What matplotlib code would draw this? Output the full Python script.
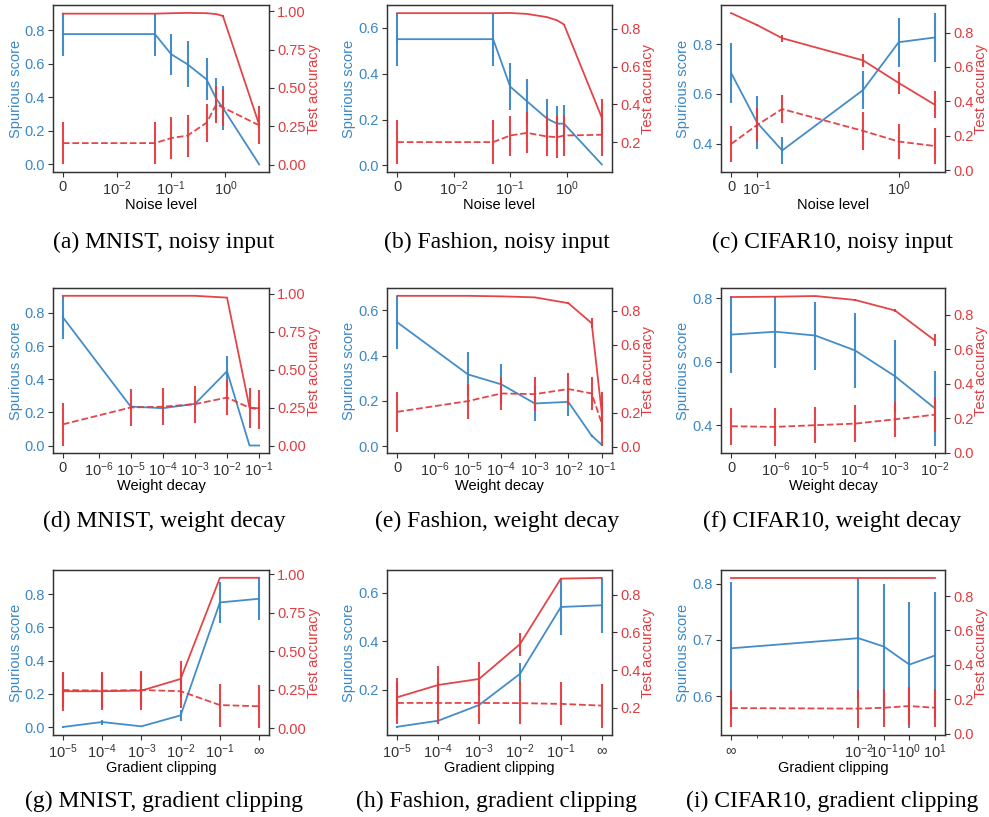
import numpy as np
import matplotlib
matplotlib.use("Agg")
import matplotlib.pyplot as plt
from matplotlib.ticker import NullLocator, FixedLocator, NullFormatter

plt.rcParams['font.family'] = ['Liberation Sans', 'DejaVu Sans']
plt.rcParams['mathtext.fontset'] = 'custom'
plt.rcParams['mathtext.rm'] = 'Liberation Sans'
plt.rcParams['mathtext.it'] = 'Liberation Sans:italic'
plt.rcParams['mathtext.bf'] = 'Liberation Sans:bold'
plt.rcParams['axes.edgecolor'] = '#333333'
plt.rcParams['xtick.color'] = '#333333'
plt.rcParams['ytick.color'] = '#333333'

BLUE = '#3a87c6'
RED = '#e23b3f'

# ---------------- data ----------------
# (a) MNIST, noisy input
noise_mnist = [0, 0.05, 0.1, 0.2, 0.45, 0.68, 0.9, 4.2]
spur_mnist_noise = [0.776, 0.776, 0.656, 0.596, 0.506, 0.39, 0.336, 0.0]
spur_mnist_noise_err = [0.128, 0.128, 0.123, 0.137, 0.125, 0.122, 0.13, 0.0]
acc_mnist_noise = [0.985, 0.985, 0.988, 0.99, 0.988, 0.982, 0.97, 0.26]
acc_mnist_noise_err = [0.002, 0.002, 0.002, 0.002, 0.002, 0.003, 0.004, 0.01]
dash_mnist_noise = [0.14, 0.14, 0.173, 0.189, 0.273, 0.393, 0.373, 0.256]
dash_mnist_noise_err = [0.139, 0.139, 0.135, 0.137, 0.123, 0.12, 0.12, 0.125]

# (b) Fashion, noisy input
noise_fashion = [0, 0.05, 0.1, 0.2, 0.45, 0.68, 0.9, 4.2]
spur_fashion_noise = [0.551, 0.551, 0.344, 0.279, 0.204, 0.182, 0.182, 0.004]
spur_fashion_noise_err = [0.116, 0.116, 0.103, 0.098, 0.087, 0.078, 0.082, 0.0]
acc_fashion_noise = [0.883, 0.883, 0.884, 0.879, 0.862, 0.845, 0.823, 0.33]
acc_fashion_noise_err = [0.002, 0.002, 0.002, 0.002, 0.003, 0.003, 0.004, 0.1]
dash_fashion_noise = [0.2, 0.2, 0.235, 0.249, 0.23, 0.226, 0.235, 0.239]
dash_fashion_noise_err = [0.118, 0.118, 0.106, 0.108, 0.106, 0.11, 0.108, 0.11]

# (c) CIFAR10, noisy input
noise_cifar = [0, 0.1, 0.15, 0.56, 1.0, 1.8]
spur_cifar_noise = [0.684, 0.484, 0.373, 0.616, 0.808, 0.827]
spur_cifar_noise_err = [0.119, 0.107, 0.056, 0.076, 0.099, 0.1]
acc_cifar_noise = [0.913, 0.843, 0.767, 0.638, 0.507, 0.38]
acc_cifar_noise_err = [0.003, 0.006, 0.02, 0.04, 0.064, 0.078]
dash_cifar_noise = [0.152, 0.263, 0.355, 0.228, 0.166, 0.14]
dash_cifar_noise_err = [0.105, 0.1, 0.08, 0.11, 0.104, 0.107]

# (d) MNIST, weight decay
wd_mnist = [0, 1e-5, 1e-4, 1e-3, 1e-2, 0.05, 0.1]
spur_mnist_wd = [0.774, 0.235, 0.225, 0.251, 0.448, 0.0, 0.0]
spur_mnist_wd_err = [0.131, 0.005, 0.005, 0.005, 0.095, 0.0, 0.0]
acc_mnist_wd = [0.985, 0.985, 0.985, 0.985, 0.973, 0.25, 0.245]
acc_mnist_wd_err = [0.002, 0.002, 0.002, 0.002, 0.003, 0.01, 0.01]
dash_mnist_wd = [0.14, 0.251, 0.256, 0.273, 0.316, 0.249, 0.238]
dash_mnist_wd_err = [0.139, 0.122, 0.122, 0.122, 0.117, 0.13, 0.13]

# (e) Fashion, weight decay
wd_fashion = [0, 1e-5, 1e-4, 1e-3, 1e-2, 0.05, 0.1]
spur_fashion_wd = [0.546, 0.317, 0.273, 0.189, 0.196, 0.047, 0.007]
spur_fashion_wd_err = [0.118, 0.097, 0.088, 0.077, 0.06, 0.005, 0.003]
acc_fashion_wd = [0.888, 0.888, 0.885, 0.879, 0.845, 0.727, 0.2]
acc_fashion_wd_err = [0.002, 0.002, 0.002, 0.003, 0.005, 0.03, 0.12]
dash_fashion_wd = [0.206, 0.269, 0.314, 0.31, 0.34, 0.314, 0.138]
dash_fashion_wd_err = [0.116, 0.103, 0.095, 0.098, 0.094, 0.095, 0.13]

# (f) CIFAR10, weight decay
wd_cifar = [0, 1e-6, 1e-5, 1e-4, 1e-3, 1e-2]
spur_cifar_wd = [0.686, 0.695, 0.683, 0.636, 0.555, 0.454]
spur_cifar_wd_err = [0.12, 0.114, 0.107, 0.119, 0.114, 0.117]
acc_cifar_wd = [0.903, 0.905, 0.909, 0.886, 0.825, 0.651]
acc_cifar_wd_err = [0.003, 0.003, 0.003, 0.004, 0.01, 0.035]
dash_cifar_wd = [0.153, 0.149, 0.159, 0.168, 0.193, 0.22]
dash_cifar_wd_err = [0.108, 0.108, 0.105, 0.108, 0.102, 0.1]

# (g) MNIST, gradient clipping   (inf = no clipping)
clip_mnist = [1e-5, 1e-4, 1e-3, 1e-2, 1e-1, np.inf]
spur_mnist_clip = [0.0, 0.03, 0.004, 0.07, 0.75, 0.772]
spur_mnist_clip_err = [0.003, 0.015, 0.003, 0.035, 0.125, 0.128]
acc_mnist_clip = [0.24, 0.24, 0.244, 0.32, 0.978, 0.978]
acc_mnist_clip_err = [0.127, 0.125, 0.125, 0.115, 0.002, 0.002]
dash_mnist_clip = [0.248, 0.244, 0.248, 0.24, 0.15, 0.142]
dash_mnist_clip_err = [0.11, 0.11, 0.11, 0.11, 0.14, 0.138]

# (h) Fashion, gradient clipping
clip_fashion = [1e-5, 1e-4, 1e-3, 1e-2, 1e-1, np.inf]
spur_fashion_clip = [0.046, 0.071, 0.136, 0.265, 0.542, 0.549]
spur_fashion_clip_err = [0.003, 0.005, 0.006, 0.043, 0.118, 0.115]
acc_fashion_clip = [0.256, 0.321, 0.353, 0.537, 0.884, 0.888]
acc_fashion_clip_err = [0.1, 0.1, 0.09, 0.06, 0.002, 0.002]
dash_fashion_clip = [0.226, 0.226, 0.226, 0.225, 0.221, 0.212]
dash_fashion_clip_err = [0.11, 0.11, 0.11, 0.112, 0.114, 0.116]

# (i) CIFAR10, gradient clipping
clip_cifar = [np.inf, 1e-2, 1e-1, 1.0, 10.0]
spur_cifar_clip = [0.685, 0.703, 0.688, 0.656, 0.672]
spur_cifar_clip_err = [0.118, 0.108, 0.112, 0.112, 0.113]
acc_cifar_clip = [0.906, 0.906, 0.906, 0.906, 0.906]
acc_cifar_clip_err = [0.002, 0.002, 0.002, 0.002, 0.002]
dash_cifar_clip = [0.148, 0.145, 0.15, 0.16, 0.15]
dash_cifar_clip_err = [0.108, 0.11, 0.11, 0.11, 0.11]

captions = ['(a) MNIST, noisy input', '(b) Fashion, noisy input', '(c) CIFAR10, noisy input',
            '(d) MNIST, weight decay', '(e) Fashion, weight decay', '(f) CIFAR10, weight decay',
            '(g) MNIST, gradient clipping', '(h) Fashion, gradient clipping',
            '(i) CIFAR10, gradient clipping']

# ---------------- layout ----------------
W, H = 989, 817
fig = plt.figure(figsize=(W / 100, H / 100), dpi=100)

col_px = [(53, 216), (387, 225), (721, 224)]
row_px = [(5, 172), (288, 453), (570, 735)]
cap_x = [164, 497, 832]
cap_y = [242, 521, 801]
right_label_x = [1.175, 1.13, 1.13]


def make_ax(r, c):
    l, w = col_px[c]
    t, b = row_px[r]
    return fig.add_axes([l / W, 1 - b / H, w / W, (b - t) / H])


def sup(e):
    return r'$10^{%d}$' % e


def draw(ax, x, spur, spur_err, acc, acc_err, dash, dash_err, xlabel, c, wide_right=False):
    lw = 1.3
    ax.errorbar(x, spur, yerr=spur_err, color=BLUE, lw=lw, elinewidth=1.5, capsize=0,
                ecolor=BLUE, alpha=0.95)
    ax.set_ylabel('Spurious score', color=BLUE, fontsize=10.5)
    ax.yaxis.set_label_coords(-0.14, 0.5)
    ax.tick_params(axis='y', labelcolor=BLUE, labelsize=10.5, length=3.5, pad=2.5)
    ax.tick_params(axis='x', labelsize=10.5, length=3.5, pad=2)
    ax.set_xlabel(xlabel, fontsize=10.5, labelpad=0)
    ax2 = ax.twinx()
    ax2.errorbar(x, acc, yerr=acc_err, color=RED, lw=lw, elinewidth=1.5, capsize=0, alpha=0.95)
    ax2.errorbar(x, dash, yerr=dash_err, color=RED, lw=lw, ls='--', elinewidth=1.5,
                 capsize=0, alpha=0.95)
    ax2.set_ylabel('Test accuracy', color=RED, fontsize=10.5)
    ax2.yaxis.set_label_coords(1.175 if wide_right else right_label_x[c], 0.5)
    ax2.tick_params(axis='y', labelcolor=RED, labelsize=10.5, length=3.5, pad=2.5)
    for a in (ax, ax2):
        for s in a.spines.values():
            s.set_linewidth(0.9)
    return ax2


# Row 1: noisy input (symlog)
ax = make_ax(0, 0)
ax.set_xscale('symlog', linthresh=1e-2, linscale=0.9)
draw(ax, noise_mnist, spur_mnist_noise, spur_mnist_noise_err, acc_mnist_noise,
     acc_mnist_noise_err, dash_mnist_noise, dash_mnist_noise_err, 'Noise level', 0, True)
ax.set_xticks([0, 1e-2, 1e-1, 1], ['0', sup(-2), sup(-1), sup(0)])
ax.xaxis.set_minor_locator(NullLocator())

ax = make_ax(0, 1)
ax.set_xscale('symlog', linthresh=1e-2, linscale=0.9)
draw(ax, noise_fashion, spur_fashion_noise, spur_fashion_noise_err, acc_fashion_noise,
     acc_fashion_noise_err, dash_fashion_noise, dash_fashion_noise_err, 'Noise level', 1)
ax.set_xticks([0, 1e-2, 1e-1, 1], ['0', sup(-2), sup(-1), sup(0)])
ax.xaxis.set_minor_locator(NullLocator())

ax = make_ax(0, 2)
ax.set_xscale('symlog', linthresh=1e-1, linscale=0.166)
draw(ax, noise_cifar, spur_cifar_noise, spur_cifar_noise_err, acc_cifar_noise,
     acc_cifar_noise_err, dash_cifar_noise, dash_cifar_noise_err, 'Noise level', 2)
ax.set_xticks([0, 1e-1, 1], ['0', sup(-1), sup(0)])
ax.xaxis.set_minor_locator(NullLocator())

# Row 2: weight decay (symlog)
ax = make_ax(1, 0)
ax.set_xscale('symlog', linthresh=1e-6, linscale=1)
draw(ax, wd_mnist, spur_mnist_wd, spur_mnist_wd_err, acc_mnist_wd, acc_mnist_wd_err,
     dash_mnist_wd, dash_mnist_wd_err, 'Weight decay', 0, True)
ax.set_xticks([0, 1e-6, 1e-5, 1e-4, 1e-3, 1e-2, 1e-1],
              ['0'] + [sup(e) for e in range(-6, 0)])
ax.xaxis.set_minor_locator(NullLocator())

ax = make_ax(1, 1)
ax.set_xscale('symlog', linthresh=1e-6, linscale=1)
draw(ax, wd_fashion, spur_fashion_wd, spur_fashion_wd_err, acc_fashion_wd,
     acc_fashion_wd_err, dash_fashion_wd, dash_fashion_wd_err, 'Weight decay', 1)
ax.set_xticks([0, 1e-6, 1e-5, 1e-4, 1e-3, 1e-2, 1e-1],
              ['0'] + [sup(e) for e in range(-6, 0)])
ax.xaxis.set_minor_locator(NullLocator())

ax = make_ax(1, 2)
ax.set_xscale('symlog', linthresh=1e-6, linscale=1)
draw(ax, wd_cifar, spur_cifar_wd, spur_cifar_wd_err, acc_cifar_wd, acc_cifar_wd_err,
     dash_cifar_wd, dash_cifar_wd_err, 'Weight decay', 2)
ax.set_xticks([0, 1e-6, 1e-5, 1e-4, 1e-3, 1e-2],
              ['0'] + [sup(e) for e in range(-6, -1)])
ax.xaxis.set_minor_locator(NullLocator())


# Row 3: gradient clipping (log, "no clipping" shown as infinity)
def clip_pos(vals, inf_at):
    return [inf_at if np.isinf(v) else v for v in vals]


ax = make_ax(2, 0)
ax.set_xscale('log')
xp = clip_pos(clip_mnist, 1.0)
draw(ax, xp, spur_mnist_clip, spur_mnist_clip_err, acc_mnist_clip, acc_mnist_clip_err,
     dash_mnist_clip, dash_mnist_clip_err, 'Gradient clipping', 0, True)
ax.set_xticks(xp, [sup(e) for e in range(-5, 0)] + [r'$\infty$'])
ax.xaxis.set_minor_locator(NullLocator())

ax = make_ax(2, 1)
ax.set_xscale('log')
xp = clip_pos(clip_fashion, 1.0)
draw(ax, xp, spur_fashion_clip, spur_fashion_clip_err, acc_fashion_clip,
     acc_fashion_clip_err, dash_fashion_clip, dash_fashion_clip_err, 'Gradient clipping', 1)
ax.set_xticks(xp, [sup(e) for e in range(-5, 0)] + [r'$\infty$'])
ax.xaxis.set_minor_locator(NullLocator())

ax = make_ax(2, 2)
ax.set_xscale('log')
xp = clip_pos(clip_cifar, 1e-7)
draw(ax, xp, spur_cifar_clip, spur_cifar_clip_err, acc_cifar_clip, acc_cifar_clip_err,
     dash_cifar_clip, dash_cifar_clip_err, 'Gradient clipping', 2)
ax.set_xticks(xp, [r'$\infty$'] + [sup(e) for e in range(-2, 2)])
ax.xaxis.set_minor_locator(FixedLocator([1e-6, 1e-5, 1e-4, 1e-3]))
ax.xaxis.set_minor_formatter(NullFormatter())
ax.tick_params(axis='x', which='minor', length=2)

for i, cap in enumerate(captions):
    r, c = divmod(i, 3)
    fig.text(cap_x[c] / W, 1 - cap_y[r] / H, cap, ha='center', va='center',
             fontsize=17, family=['Liberation Serif', 'DejaVu Serif'])

fig.savefig('out.png', dpi=100)
